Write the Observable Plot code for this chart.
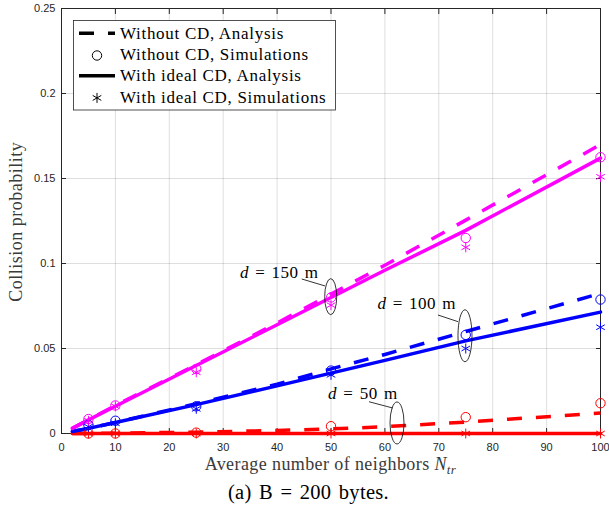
<!DOCTYPE html>
<html>
<head>
<meta charset="utf-8">
<script src="https://cdn.jsdelivr.net/npm/d3@7"></script>
<script src="https://cdn.jsdelivr.net/npm/@observablehq/plot@0.6"></script>
<style>
  body { margin: 0; background: #fff; }
  #chart { width: 609px; height: 478px; }
  #caption { width: 609px; height: 36px; line-height: 28px; text-align: center;
    font-family: "Liberation Serif", "Times New Roman", serif; font-size: 20.5px;
    word-spacing: 2px; letter-spacing: 0.3px; color: #000; padding-left: 8px; box-sizing: border-box; }
</style>
</head>
<body>
<div id="chart"></div>
<div id="caption">(a) B = 200 bytes.</div>
<script>
// ---- tick labels ----
const xTicks = [0, 10, 20, 30, 40, 50, 60, 70, 80, 90, 100];
const yTicks = [0, 0.05, 0.1, 0.15, 0.2, 0.25];

// ---- series ----
const distanceKeys = ["50", "100", "150"];
const seriesColors = ["#ff0000", "#0000ff", "#ff00ff"];

// analysis curves (N_tr values)
const analysisN = [2, 5, 10, 25, 40, 50, 60, 75, 100];
const noCD_50 = [0, 0, 0.0002, 0.0008, 0.0018, 0.0027, 0.004, 0.0067, 0.012];
const noCD_100 = [0.0012, 0.003, 0.0065, 0.0175, 0.029, 0.038, 0.0465, 0.060, 0.0824];
const noCD_150 = [0.003, 0.008, 0.0165, 0.0405, 0.065, 0.082, 0.099, 0.1255, 0.170];
const idealCD_50 = [0, 0, 0, 0, 0, 0, 0, 0, 0];
const idealCD_100 = [0.0012, 0.003, 0.0065, 0.017, 0.028, 0.0355, 0.043, 0.0545, 0.0714];
const idealCD_150 = [0.003, 0.008, 0.016, 0.040, 0.064, 0.080, 0.096, 0.1195, 0.162];

// simulations
const simN = [5, 10, 25, 50, 75, 100];
const simNoCD_50 = [0, 0, 0.0005, 0.0043, 0.0096, 0.0178];
const simNoCD_100 = [0.005, 0.0075, 0.016, 0.037, 0.058, 0.0788];
const simNoCD_150 = [0.0085, 0.0165, 0.038, 0.080, 0.115, 0.1625];
const simIdealCD_50 = [0, 0, 0, 0, 0, 0];
const simIdealCD_100 = [0.004, 0.006, 0.0145, 0.0345, 0.050, 0.0625];
const simIdealCD_150 = [0.0075, 0.016, 0.036, 0.0755, 0.1095, 0.151];

// legend
const legendLabels = ["Without CD, Analysis", "Without CD, Simulations", "With ideal CD, Analysis", "With ideal CD, Simulations"];

// annotations (d = ... m)
const annoDist = ["150", "100", "50"];
const annoTextN = [40.5, 66.0, 56.0];
const annoTextP = [0.0943, 0.0763, 0.0233];
const annoFromN = [44.66, 69.94, 57.14];
const annoFromP = [0.0906, 0.0694, 0.0184];
const annoToN = [48.98, 73.65, 61.54];
const annoToP = [0.0865, 0.0655, 0.0147];
const annoEllN = [50.04, 74.95, 62.34];
const annoEllP = [0.0802, 0.0572, 0.0059];
const annoRx = [6, 7, 7];
const annoRy = [18, 26, 21];

// ---- build tables ----
const noCD = [noCD_50, noCD_100, noCD_150];
const idealCD = [idealCD_50, idealCD_100, idealCD_150];
const simNoCD = [simNoCD_50, simNoCD_100, simNoCD_150];
const simIdealCD = [simIdealCD_50, simIdealCD_100, simIdealCD_150];

const dashedRows = [], solidRows = [], circleRows = [], starRows = [];
distanceKeys.forEach((d, k) => {
  analysisN.forEach((n, i) => {
    dashedRows.push({n, p: noCD[k][i], d});
    solidRows.push({n, p: idealCD[k][i], d});
  });
  simN.forEach((n, i) => {
    circleRows.push({n, p: simNoCD[k][i], d});
    starRows.push({n, p: simIdealCD[k][i], d});
  });
});

const ink = "#262626";
const dash = "15,14";
const lw = 3.5;

const plot = Plot.plot({
  width: 609,
  height: 478,
  marginLeft: 61,
  marginRight: 9,
  marginTop: 8,
  marginBottom: 45,
  style: {fontFamily: "'Liberation Sans', Arial, sans-serif", fontSize: "11px", color: ink, background: "#fff"},
  x: {domain: [0, 100], axis: null},
  y: {domain: [0, 0.25], axis: null},
  color: {domain: distanceKeys, range: seriesColors},
  marks: [
    Plot.gridX(xTicks, {stroke: "#000", strokeOpacity: 0.13, strokeWidth: 1}),
    Plot.gridY(yTicks, {stroke: "#000", strokeOpacity: 0.13, strokeWidth: 1}),
    Plot.frame({stroke: ink, strokeWidth: 1}),
    Plot.axisX(xTicks, {anchor: "bottom", tickSize: 0, tickPadding: 10, label: null, tickFormat: d => String(d), fill: ink}),
    Plot.axisX(xTicks, {anchor: "bottom", tickSize: -5, label: null, tickFormat: () => "", stroke: ink}),
    Plot.axisX(xTicks, {anchor: "top", tickSize: -5, label: null, tickFormat: () => "", stroke: ink}),
    Plot.axisY(yTicks, {anchor: "left", tickSize: 0, tickPadding: 6, label: null, tickFormat: d => String(d), fill: ink}),
    Plot.axisY(yTicks, {anchor: "left", tickSize: -5, label: null, tickFormat: () => "", stroke: ink}),
    Plot.axisY(yTicks, {anchor: "right", tickSize: -5, label: null, tickFormat: () => "", stroke: ink}),
    Plot.line(dashedRows, {x: "n", y: "p", z: "d", stroke: "d", strokeWidth: lw, strokeDasharray: dash, strokeLinecap: "butt"}),
    Plot.line(solidRows, {x: "n", y: "p", z: "d", stroke: "d", strokeWidth: lw}),
    Plot.dot(circleRows, {x: "n", y: "p", stroke: "d", symbol: "circle", r: 4.7, strokeWidth: 1}),
    Plot.dot(starRows, {x: "n", y: "p", stroke: "d", symbol: "asterisk", r: 4.7, strokeWidth: 1})
  ]
});

document.getElementById("chart").appendChild(plot);

const sx = plot.scale("x"), sy = plot.scale("y");
const svg = d3.select(plot);
const serif = "'Liberation Serif', 'Times New Roman', serif";

// annotations
const ag = svg.append("g").attr("font-family", serif).attr("font-size", 17).attr("fill", "#000");
annoDist.forEach((dist, i) => {
  const t = ag.append("text")
    .attr("x", sx.apply(annoTextN[i])).attr("y", sy.apply(annoTextP[i]))
    .attr("dy", "0.33em").attr("text-anchor", "middle")
    .attr("letter-spacing", 0.5).attr("word-spacing", 1.5)
    .attr("xml:space", "preserve");
  t.append("tspan").attr("font-style", "italic").text("d");
  t.append("tspan").text(" = " + dist + " m");
  ag.append("line")
    .attr("x1", sx.apply(annoFromN[i])).attr("y1", sy.apply(annoFromP[i]))
    .attr("x2", sx.apply(annoToN[i])).attr("y2", sy.apply(annoToP[i]))
    .attr("stroke", "#000").attr("stroke-width", 0.8);
  ag.append("ellipse")
    .attr("cx", sx.apply(annoEllN[i])).attr("cy", sy.apply(annoEllP[i]))
    .attr("rx", annoRx[i]).attr("ry", annoRy[i])
    .attr("fill", "none").attr("stroke", "#000").attr("stroke-width", 0.8);
});

// legend
const lg = svg.append("g").attr("font-family", serif).attr("font-size", 17).attr("text-anchor", "start");
lg.append("rect").attr("x", 73.5).attr("y", 20.5).attr("width", 262).attr("height", 89.5)
  .attr("fill", "#fff").attr("stroke", ink).attr("stroke-width", 0.8);
legendLabels.forEach((lab, i) => {
  const cy = 33.3 + i * 21.2;
  if (i === 0 || i === 2) {
    lg.append("line").attr("x1", 79).attr("x2", 115).attr("y1", cy).attr("y2", cy)
      .attr("stroke", "#000").attr("stroke-width", lw)
      .attr("stroke-dasharray", i === 0 ? dash : null);
  } else {
    const sym = i === 1 ? d3.symbolCircle : d3.symbolAsterisk;
    lg.append("path").attr("d", d3.symbol(sym, Math.PI * 4.7 * 4.7)())
      .attr("transform", `translate(97,${cy + 1})`)
      .attr("fill", "none").attr("stroke", "#000").attr("stroke-width", 1);
  }
  lg.append("text").attr("x", 120).attr("y", cy).attr("dy", "0.33em")
    .attr("text-anchor", "start")
    .attr("letter-spacing", 0.7).attr("fill", "#000").text(lab);
});

// axis labels
const xl = svg.append("text").attr("x", 330.5).attr("y", 470).attr("text-anchor", "middle")
  .attr("font-family", serif).attr("font-size", 18).attr("letter-spacing", 0.4).attr("fill", "#3a3a3a");
xl.append("tspan").text("Average number of neighbors ");
xl.append("tspan").attr("font-style", "italic").text("N");
xl.append("tspan").attr("font-style", "italic").attr("font-size", 13).attr("dy", 4).text("tr");

svg.append("text").attr("transform", "translate(22,221.7) rotate(-90)").attr("text-anchor", "middle")
  .attr("font-family", serif).attr("font-size", 18).attr("letter-spacing", 0.5).attr("fill", "#3a3a3a")
  .text("Collision probability");
</script>
</body>
</html>
